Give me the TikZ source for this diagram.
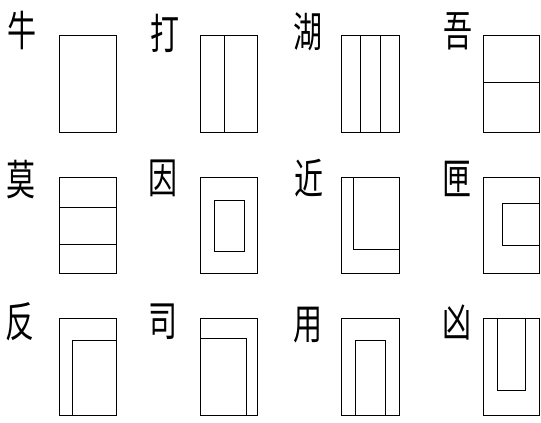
\documentclass[tikz,border=0pt]{standalone}
\usepackage{fontspec}
\newfontfamily\cjk{Noto Sans CJK SC}
\tikzset{
  ln/.style={line width=1pt, black},
  ch/.style={inner sep=0pt, font=\cjk\fontsize{29}{29}\selectfont},
}
\newcommand{\tallch}[1]{\scalebox{1}[1.45]{#1}}
\begin{document}
\begin{tikzpicture}[x=1pt,y=-1pt]
\useasboundingbox (0,0) rectangle (541,423);
% characters
\node[ch] (c1) at (22.5,30) {\tallch{牛}};
\node[ch] (c2) at (165,33) {\tallch{打}};
\node[ch] (c3) at (308,31.5) {\tallch{湖}};
\node[ch] (c4) at (457.5,31.5) {\tallch{吾}};
\node[ch] (c5) at (21,180) {\tallch{莫}};
\node[ch] (c6) at (162.5,178.5) {\tallch{因}};
\node[ch] (c7) at (309,178.5) {\tallch{近}};
\node[ch] (c8) at (456.5,178.5) {\tallch{匣}};
\node[ch] (c9) at (20,321.5) {\tallch{反}};
\node[ch] (c10) at (162.5,321.5) {\tallch{司}};
\node[ch] (c11) at (307.5,325) {\tallch{用}};
\node[ch] (c12) at (456.5,322.5) {\tallch{凶}};
% row 1
\draw[ln] (59.3,35.7) rectangle (116.7,132.7);
\draw[ln] (200.7,35.7) rectangle (257.7,132.7);
\draw[ln] (224.7,35.7) -- (224.7,132.7);
\draw[ln] (341.7,35.7) rectangle (399,132.7);
\draw[ln] (360.7,35.7) -- (360.7,132.7);
\draw[ln] (380.3,35.7) -- (380.3,132.7);
\draw[ln] (483.3,35.7) rectangle (539.5,132.7);
\draw[ln] (483.3,82) -- (539.5,82);
% row 2
\draw[ln] (59.3,177.3) rectangle (116.7,273.3);
\draw[ln] (59.3,207.3) -- (116.7,207.3);
\draw[ln] (59.3,244.3) -- (116.7,244.3);
\draw[ln] (200.7,177.3) rectangle (257.7,273.3);
\draw[ln] (214,200.3) rectangle (244,251);
\draw[ln] (341.7,177.3) rectangle (399,273.3);
\draw[ln] (353.3,177.3) -- (353.3,249.3) -- (399,249.3);
\draw[ln] (483.3,177.3) rectangle (539.5,273.3);
\draw[ln] (539.5,203.3) -- (502.3,203.3) -- (502.3,245.3) -- (539.5,245.3);
% row 3
\draw[ln] (59.3,318.3) rectangle (116.7,415.7);
\draw[ln] (72.7,415.7) -- (72.7,340.7) -- (116.7,340.7);
\draw[ln] (200.7,318.3) rectangle (257.7,415.7);
\draw[ln] (200.7,338) -- (246.7,338) -- (246.7,415.7);
\draw[ln] (341.7,318.3) rectangle (399,415.7);
\draw[ln] (355.3,415.7) -- (355.3,340.3) -- (385.3,340.3) -- (385.3,415.7);
\draw[ln] (483.3,318.3) rectangle (539.5,415.7);
\draw[ln] (497.7,318.3) -- (497.7,390) -- (525.7,390) -- (525.7,318.3);
\end{tikzpicture}
\end{document}
